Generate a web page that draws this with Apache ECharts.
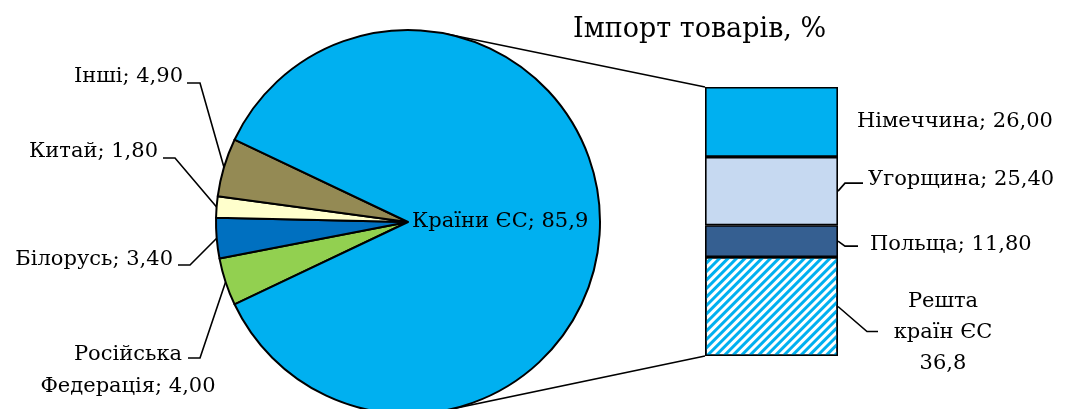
<!DOCTYPE html>
<html>
<head>
<meta charset="utf-8">
<script src="https://cdn.jsdelivr.net/npm/echarts@6/dist/echarts.min.js"></script>
<style>
  html, body { margin: 0; padding: 0; background: #fff; }
  #chart { width: 1065px; height: 409px; }
</style>
</head>
<body>
<div id="chart"></div>
<script>
// pie: import of goods by origin, %
const pieNames = ['Російська\nФедерація', 'Білорусь', 'Китай', 'Інші', 'Країни ЄС'];
const pieValues = [4.0, 3.4, 1.8, 4.9, 85.9];
const pieDigits = [2, 2, 2, 2, 1];
const pieColors = ['#92D050', '#0070C0', '#FFFFCC', '#948A54', '#00B0F0'];

// bar: breakdown of the EU share
const barNames = ['Німеччина', 'Угорщина', 'Польща', 'Решта\nкраїн ЄС'];
const barValues = [26.0, 25.4, 11.8, 36.8];
const barDigits = [2, 2, 2, 1];
const barColors = ['#00B0F0', '#C6D9F1', '#355F91', '#FFFFFF'];

const FONT = 'DejaVu Serif';
const C = [408, 222], R = 192;
const grid = { left: 705, top: 87, width: 133, height: 269 };

const fmt = (v, d) => v.toFixed(d).replace('.', ',');
const small = pieValues.slice(0, 4).reduce((a, b) => a + b, 0);

// label placement (layout only)
const pieLabelPos = [
  { x: 128, y: 371, align: 'center', elbow: [200, 358], end: [188, 358] },
  { x: 173, y: 260, align: 'right', elbow: [190, 265], end: [178, 265] },
  { x: 158, y: 152, align: 'right', elbow: [175, 158], end: [163, 158] },
  { x: 183, y: 77, align: 'right', elbow: [200, 83], end: [187, 83] },
  { x: 412, y: 222, align: 'left' }
];
const barLabelPos = [
  { x: 857, y: 122, align: 'left' },
  { x: 868, y: 180, align: 'left', line: [[7, -8], [25, -8]] },
  { x: 870, y: 245, align: 'left', line: [[7, 5], [20, 5]] },
  { x: 943, y: 333, align: 'center', line: [[29, 25], [40, 25]] }
];

const chart = echarts.init(document.getElementById('chart'));

const option = {
  animation: false,
  title: {
    text: 'Імпорт товарів, %',
    left: 568,
    top: 11,
    textStyle: { fontFamily: FONT, fontSize: 27, fontWeight: 'normal', color: '#000' }
  },
  grid: grid,
  xAxis: { type: 'category', data: ['ЄС'], show: false },
  yAxis: { type: 'value', min: 0, max: 100, inverse: true, show: false },
  series: [
    {
      type: 'pie',
      center: C,
      radius: R,
      startAngle: 180 + small * 3.6 / 2,
      clockwise: true,
      silent: true,
      data: pieNames.map((n, i) => ({
        name: n,
        value: pieValues[i],
        itemStyle: { color: pieColors[i] },
        labelLine: { show: i < 4 }
      })),
      itemStyle: { borderColor: '#000', borderWidth: 2 },
      label: {
        show: true,
        color: '#000',
        fontFamily: FONT,
        fontSize: 21,
        lineHeight: 32,
        formatter: p => p.name + '; ' + fmt(p.value, pieDigits[p.dataIndex])
      },
      labelLine: { show: true, length: 10, length2: 10, lineStyle: { color: '#000', width: 1.6 } },
      labelLayout: function (p) {
        const pos = pieLabelPos[p.dataIndex];
        const out = { x: pos.x, y: pos.y, align: pos.align, verticalAlign: 'middle' };
        if (pos.elbow && p.labelLinePoints) {
          const a = p.labelLinePoints[0];
          out.labelLinePoints = [[a[0], a[1]], pos.elbow, pos.end];
        }
        return out;
      }
    }
  ].concat(barNames.map((n, i) => ({
    type: 'bar',
    name: n,
    stack: 'eu',
    barWidth: '100%',
    silent: true,
    data: [barValues[i]],
    itemStyle: Object.assign(
      { color: barColors[i], borderColor: '#000', borderWidth: 1.6 },
      i === 3 ? { decal: { symbol: 'rect', symbolSize: 1, color: '#00B0F0', dashArrayX: [1, 0], dashArrayY: [3, 3], rotation: -Math.PI / 4 } } : {}
    ),
    label: {
      show: true,
      position: 'right',
      color: '#000',
      fontFamily: FONT,
      fontSize: 21,
      lineHeight: 31,
      formatter: () => n + (i === 3 ? '\n' : '; ') + fmt(barValues[i], barDigits[i])
    },
    labelLayout: function () {
      const pos = barLabelPos[i];
      return { x: pos.x, y: pos.y, align: pos.align, verticalAlign: 'middle' };
    }
  })))
};

chart.setOption(option);

// connector lines and bar leader lines, placed through the axes
function addExtras() {
  const yPix = v => chart.convertToPixel({ yAxisIndex: 0 }, v);
  const total = barValues.reduce((a, b) => a + b, 0);
  const left = grid.left, right = grid.left + grid.width;
  const topY = yPix(0), botY = yPix(total);
  const tangent = (px, py, side) => {
    const dx = px - C[0], dy = py - C[1];
    const d = Math.hypot(dx, dy);
    const ang = Math.atan2(dy, dx) + side * Math.acos(R / d);
    return [C[0] + R * Math.cos(ang), C[1] + R * Math.sin(ang)];
  };
  const t1 = tangent(left, topY, -1), t2 = tangent(left, botY, 1);
  const lineStyle = { stroke: '#000', lineWidth: 1.6, fill: null };
  const graphics = [
    { type: 'polyline', shape: { points: [t1, [left, topY]] }, style: lineStyle, z: 1 },
    { type: 'polyline', shape: { points: [t2, [left, botY]] }, style: lineStyle, z: 1 }
  ];
  let acc = 0;
  barValues.forEach((v, i) => {
    const mid = yPix(acc + v / 2);
    acc += v;
    const ln = barLabelPos[i].line;
    if (!ln) return;
    graphics.push({
      type: 'polyline',
      shape: { points: [[right, mid], [right + ln[0][0], mid + ln[0][1]], [right + ln[1][0], mid + ln[1][1]]] },
      style: lineStyle,
      z: 10
    });
  });
  chart.setOption({ graphic: graphics });
}
addExtras();
</script>
</body>
</html>
